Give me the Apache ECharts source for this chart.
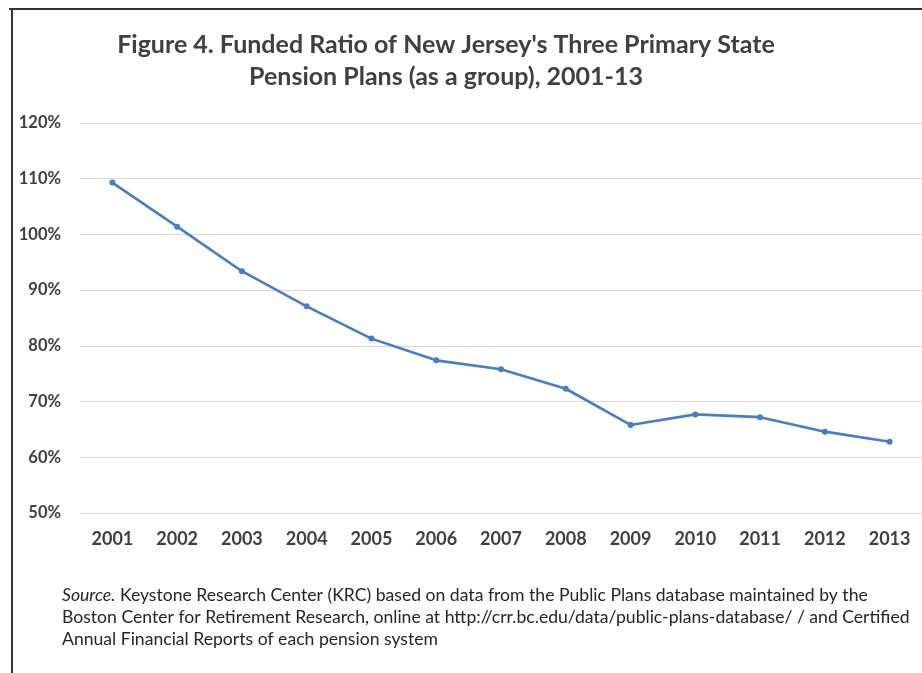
<!DOCTYPE html>
<html>
<head>
<meta charset="utf-8">
<script src="https://cdn.jsdelivr.net/npm/echarts@6/dist/echarts.min.js"></script>
<style>
html,body{margin:0;padding:0;background:#fff;}
#chart{width:922px;height:673px;}
</style>
</head>
<body>
<div id="chart"></div>
<script>
const years = ['2001','2002','2003','2004','2005','2006','2007','2008','2009','2010','2011','2012','2013'];
const fundedRatio = [109.3, 101.4, 93.4, 87.1, 81.3, 77.4, 75.8, 72.3, 65.8, 67.7, 67.2, 64.6, 62.8];
const yTicks = [50, 60, 70, 80, 90, 100, 110, 120];
const titleLines = ["Figure 4. Funded Ratio of New Jersey's Three Primary State", "Pension Plans (as a group), 2001-13"];
const sourceLines = [
  "Keystone Research Center (KRC) based on data from the Public Plans database maintained by the",
  "Boston Center for Retirement Research, online at http://crr.bc.edu/data/public-plans-database/ / and Certified",
  "Annual Financial Reports of each pension system"
];

const FONT = "Lato, 'Open Sans', sans-serif";
const chart = echarts.init(document.getElementById('chart'), null, {renderer: 'canvas'});
chart.setOption({
  backgroundColor: '#ffffff',
  animation: false,
  grid: {left: 80, right: 0, top: 123, bottom: 160, containLabel: false},
  xAxis: {
    type: 'category',
    data: years,
    boundaryGap: true,
    axisLine: {show: false},
    axisTick: {show: false},
    axisLabel: {color: '#404040', fontFamily: FONT, fontWeight: 'bold', fontSize: 18, margin: 17}
  },
  yAxis: {
    type: 'value',
    min: yTicks[0],
    max: yTicks[yTicks.length - 1],
    interval: 10,
    axisLine: {show: false},
    axisTick: {show: false},
    splitLine: {lineStyle: {color: '#d9d9d9', width: 1}},
    axisLabel: {color: '#404040', fontFamily: FONT, fontWeight: 'bold', fontSize: 16.5, margin: 19,
      formatter: v => v + '%'}
  },
  series: [{
    type: 'line',
    data: fundedRatio,
    symbol: 'circle',
    symbolSize: 6,
    lineStyle: {color: '#4a7ec4', width: 2.6},
    itemStyle: {color: '#4a7ec4'}
  }],
  graphic: [
    {type: 'line', shape: {x1: 9, y1: 9, x2: 922, y2: 9}, style: {stroke: '#333', lineWidth: 2}, silent: true},
    {type: 'line', shape: {x1: 12, y1: 9, x2: 12, y2: 673}, style: {stroke: '#333', lineWidth: 2}, silent: true},
    {type: 'text', x: 446, y: 45, style: {text: titleLines[0], textAlign: 'center', textVerticalAlign: 'middle',
      font: "bold 25px " + FONT, fill: '#404040'}},
    {type: 'text', x: 446, y: 77, style: {text: titleLines[1], textAlign: 'center', textVerticalAlign: 'middle',
      font: "bold 25px " + FONT, fill: '#404040'}},
    {type: 'text', left: 62, top: 584, style: {
      text: '{i|Source.} ' + sourceLines[0] + '\n' + sourceLines[1] + '\n' + sourceLines[2],
      font: "17.6px " + FONT, fill: '#262626', lineHeight: 22,
      rich: {i: {fontStyle: 'italic', font: "italic 17.6px " + FONT, fill: '#262626', lineHeight: 22}}
    }}
  ]
});
</script>
</body>
</html>
